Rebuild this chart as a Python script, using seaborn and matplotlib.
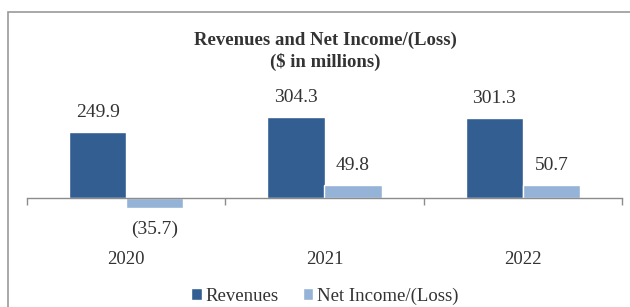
import matplotlib
matplotlib.use("Agg")
import matplotlib.pyplot as plt
import seaborn as sns
import pandas as pd
from matplotlib.patches import Rectangle

years = ["2020", "2021", "2022"]
revenues = [249.9, 304.3, 301.3]
net_income = [-35.7, 49.8, 50.7]
series_names = ["Revenues", "Net Income/(Loss)"]
colors = ["#335E92", "#95B3D7"]

df = pd.DataFrame({
    "Year": years * 2,
    "Series": [series_names[0]] * 3 + [series_names[1]] * 3,
    "Value": revenues + net_income,
})

sns.set_theme(style="white")
plt.rcParams["font.family"] = ["Liberation Serif", "DejaVu Serif"]
txt_color = "#333333"

fig = plt.figure(figsize=(6.30, 3.07), dpi=100)
W, H = 630, 307
ax = fig.add_axes([27 / W, (H - 240) / H, (622 - 27) / W, 160 / H])

sns.barplot(data=df, x="Year", y="Value", hue="Series", order=years,
            hue_order=series_names, palette=colors, width=0.576, gap=0,
            saturation=1, ax=ax, legend=True)

ax.set_xlim(-0.5, 2.5)
ax.set_ylim(-158, 445)
ax.set_xlabel("")
ax.set_ylabel("")
ax.set_yticks([])
for s in ["top", "right", "left"]:
    ax.spines[s].set_visible(False)
ax.spines["bottom"].set_position(("data", 0))
ax.spines["bottom"].set_color("#8c8c8c")
ax.spines["bottom"].set_linewidth(1.0)

ax.set_xticks([-0.5, 0.5, 1.5, 2.5])
ax.set_xticklabels([])
ax.tick_params(axis="x", which="major", bottom=True, length=5, width=1,
               color="#8c8c8c", direction="out")
ax.set_xticks([0, 1, 2], minor=True)
ax.set_xticklabels(years, minor=True)
ax.tick_params(axis="x", which="minor", length=0, pad=38, labelsize=13.5,
               labelcolor=txt_color)

for cont in ax.containers:
    for bar, val in zip(cont.patches, cont.datavalues):
        cx = bar.get_x() + bar.get_width() / 2
        if val >= 0:
            lab = f"{val:.1f}"
            ax.annotate(lab, (cx, val), xytext=(0, 14), textcoords="offset points",
                        ha="center", va="center", fontsize=14, color=txt_color)
        else:
            lab = f"({abs(val):.1f})"
            ax.annotate(lab, (cx, val), xytext=(0, -16), textcoords="offset points",
                        ha="center", va="center", fontsize=14, color=txt_color)

handles, labels = ax.get_legend_handles_labels()
ax.get_legend().remove()
fig.legend(handles, labels, loc="center", bbox_to_anchor=(325 / W, (H - 296) / H),
           ncol=2, frameon=False, fontsize=13.5, handlelength=0.55, handleheight=0.55,
           handletextpad=0.2, columnspacing=1.3, labelcolor=txt_color)

fig.text(325 / W, (H - 40) / H, "Revenues and Net Income/(Loss)", ha="center",
         va="center", fontsize=13.5, fontweight="bold", color=txt_color)
fig.text(325 / W, (H - 62) / H, "($ in millions)", ha="center",
         va="center", fontsize=13.5, fontweight="bold", color=txt_color)

fig.patches.append(Rectangle((8 / W, -0.05), 1.1, (H - 12) / H + 0.05,
                             transform=fig.transFigure, fill=False,
                             edgecolor="#9a9a9a", linewidth=1.2))

fig.savefig("out.png", dpi=100)
